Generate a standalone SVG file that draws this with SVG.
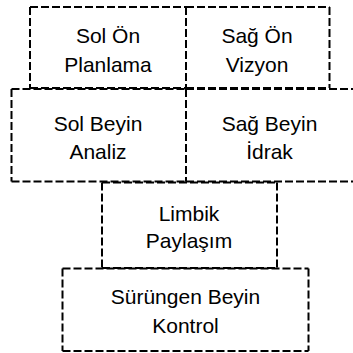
<svg xmlns="http://www.w3.org/2000/svg" width="353" height="353" viewBox="0 0 353 353">
<style>
.b{fill:none;stroke:#000;stroke-width:2;stroke-dasharray:8 3}
.t{font-family:"Liberation Sans",Arial,sans-serif;font-size:21px;fill:#000;text-anchor:middle}
</style>
<rect width="353" height="353" fill="#fff"/>
<g id="sol-on"><path class="b" d="M30 7H186M30 88H186M30 7V88M186 7V88"/><text class="t" x="108" y="43">Sol Ön</text><text class="t" x="108" y="72">Planlama</text></g>
<g id="sag-on"><path class="b" d="M186 7H329.5M186 88H329.5M186 7V88M329.5 7V88"/><text class="t" x="257" y="43">Sağ Ön</text><text class="t" x="257" y="72">Vizyon</text></g>
<g id="sol-beyin"><path class="b" d="M11.5 89H186M11.5 181.5H186M11.5 89V181.5M186 89V181.5"/><text class="t" x="98" y="130.5">Sol Beyin</text><text class="t" x="98" y="159">Analiz</text></g>
<g id="sag-beyin"><path class="b" d="M186 89H354M186 181.5H354M186 89V181.5"/><text class="t" x="269.5" y="130.5">Sağ Beyin</text><text class="t" x="269.5" y="159">İdrak</text></g>
<g id="limbik"><path class="b" d="M102 182.5H277M102 268H277M102 182.5V268M277 182.5V268"/><text class="t" x="189" y="220.5">Limbik</text><text class="t" x="189" y="247.5">Paylaşım</text></g>
<g id="surungen"><path class="b" d="M62.5 268.5H308.5M62.5 351H308.5M62.5 268.5V351M308.5 268.5V351"/><text class="t" x="185.5" y="304">Sürüngen Beyin</text><text class="t" x="185.5" y="332.5">Kontrol</text></g>
<g id="connectors"></g>
</svg>
